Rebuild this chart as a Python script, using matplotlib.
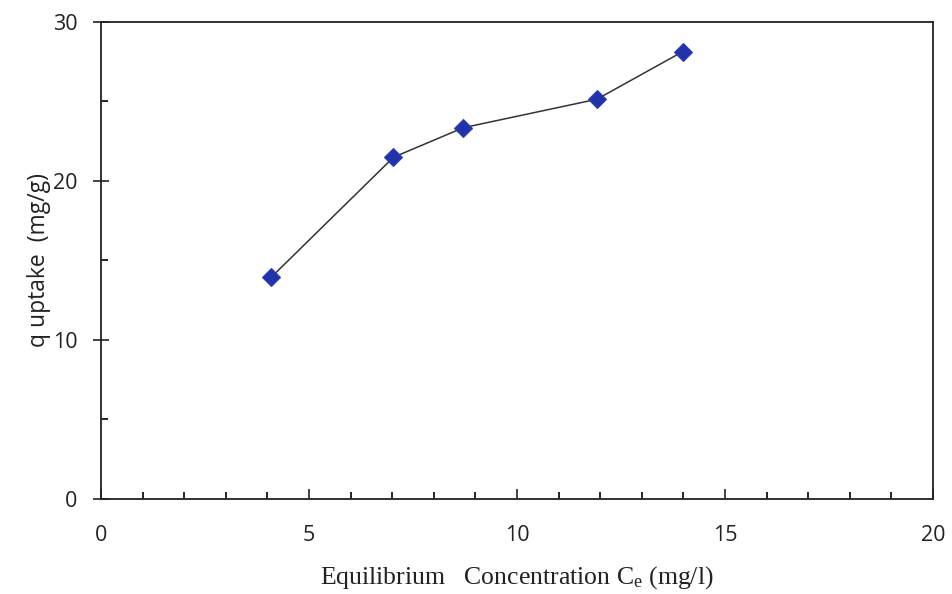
import matplotlib
matplotlib.use("Agg")
import matplotlib.pyplot as plt
from matplotlib.ticker import MultipleLocator

# equilibrium concentration (mg/l) vs uptake (mg/g)
ce = [4.09, 7.03, 8.71, 11.92, 13.98]
q_uptake = [13.94, 21.49, 23.35, 25.14, 28.13]

plt.rcParams['mathtext.fontset'] = 'custom'
plt.rcParams['mathtext.rm'] = 'Liberation Serif'
plt.rcParams['mathtext.it'] = 'Liberation Serif:italic'

fig = plt.figure(figsize=(9.53, 5.94), dpi=100)
ax = fig.add_axes([0.106, 0.160, 0.873, 0.803])

ax.plot(ce, q_uptake, color='#333333', lw=1.1, zorder=2)
ax.plot(ce, q_uptake, ls='none', marker='D', ms=9, color='#2233aa',
        markeredgecolor='#2a3dc0', markeredgewidth=0.8, zorder=3)

ax.set_xlim(0, 20)
ax.set_ylim(0, 30)
ax.xaxis.set_major_locator(MultipleLocator(5))
ax.xaxis.set_minor_locator(MultipleLocator(1))
ax.yaxis.set_major_locator(MultipleLocator(10))
ax.yaxis.set_minor_locator(MultipleLocator(5))

for s in ax.spines.values():
    s.set_linewidth(1.3)
    s.set_color('#222222')

ax.tick_params(axis='x', which='major', direction='in', length=7, width=1.2,
               pad=19, labelsize=15.5, colors='#222222')
ax.tick_params(axis='x', which='minor', direction='in', length=5, width=1.2)
ax.tick_params(axis='y', which='major', direction='inout', length=12, width=1.2,
               pad=11, labelsize=15.5, colors='#222222')
ax.tick_params(axis='y', which='minor', direction='in', length=5, width=1.2)
for lbl in ax.get_xticklabels() + ax.get_yticklabels():
    lbl.set_fontfamily('Open Sans')

ax.set_xlabel(r'Equilibrium   Concentration C$_\mathrm{e}$ (mg/l)',
              fontfamily='Liberation Serif', fontsize=18.5, color='#222222',
              labelpad=13)
ax.set_ylabel('q uptake  (mg/g)', fontfamily='Open Sans', fontsize=16.5,
              color='#222222', labelpad=1)

fig.savefig('out.png', dpi=100)
